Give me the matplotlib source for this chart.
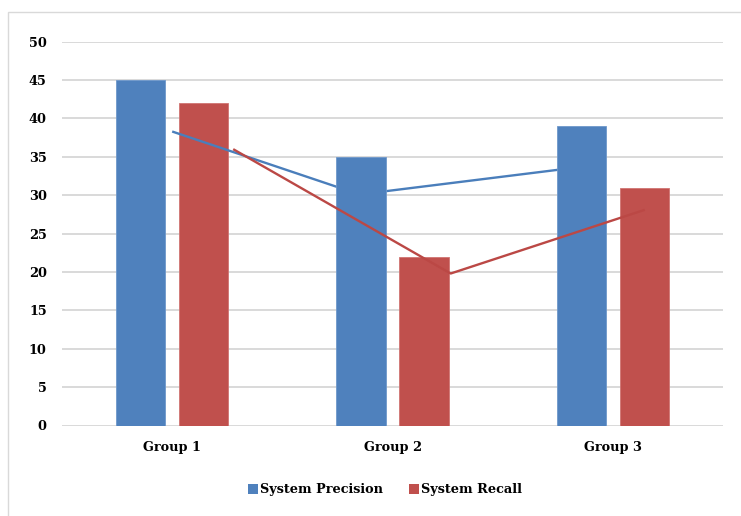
import matplotlib
matplotlib.use("Agg")
import matplotlib.pyplot as plt
import numpy as np
from matplotlib.patches import Rectangle, Patch

# Data
groups = ["Group 1", "Group 2", "Group 3"]
precision = [45, 35, 39]
recall = [42, 22, 31]

# Connecting lines for each series (x in category units, y in value units)
precision_line_x = [0.0, 0.85, 1.86]
precision_line_y = [38.3, 30.1, 33.7]
recall_line_x = [0.277, 1.264, 2.145]
recall_line_y = [36.0, 19.8, 28.1]

y_ticks = [0, 5, 10, 15, 20, 25, 30, 35, 40, 45, 50]

BLUE = "#4F81BD"
RED = "#C0504D"
BLUE_LINE = "#4A7EBB"
RED_LINE = "#BB4845"
GRID = "#D9D9D9"

plt.rcParams["font.family"] = ["DejaVu Serif"]
plt.rcParams["font.weight"] = "bold"

W, H = 741, 516
fig = plt.figure(figsize=(W / 100, H / 100), dpi=100)
fig.patch.set_facecolor("white")

# Outer chart border
fig.patches.append(Rectangle((8 / W, -0.1), 1.2, 1 - 12 / H + 0.1,
                             transform=fig.transFigure, fill=False,
                             edgecolor=GRID, linewidth=1.0))

left, right = 62 / W, 723 / W
bottom, top = 1 - 425.5 / H, 1 - 41.7 / H
ax = fig.add_axes([left, bottom, right - left, top - bottom])

x = np.arange(len(groups))
offset = 0.143
width = 0.223

for t in y_ticks:
    ax.axhline(t, color=GRID, linewidth=1.4, zorder=0)

ax.bar(x + offset, recall, width, color=RED, edgecolor="#D07472",
       linewidth=0.6, zorder=1, label="System Recall")
ax.plot(precision_line_x, precision_line_y, color=BLUE_LINE, linewidth=1.7,
        zorder=2, solid_capstyle="butt")
ax.bar(x - offset, precision, width, color=BLUE, edgecolor="#6E98CB",
       linewidth=0.6, zorder=3, label="System Precision")
ax.plot(recall_line_x, recall_line_y, color=RED_LINE, linewidth=1.7,
        zorder=4, solid_capstyle="butt")

ax.set_xlim(-0.5, 2.5)
ax.set_ylim(0, 50)
ax.set_yticks(y_ticks)
ax.set_xticks(x)
ax.set_xticklabels(groups)
ax.tick_params(axis="both", length=0, labelsize=9.3, colors="#000000")
ax.tick_params(axis="y", pad=11)
ax.tick_params(axis="x", pad=11)
for lab in ax.get_xticklabels() + ax.get_yticklabels():
    lab.set_fontweight("bold")
for s in ax.spines.values():
    s.set_visible(False)

handles = [Patch(facecolor=BLUE, edgecolor="none"),
           Patch(facecolor=RED, edgecolor="none")]
fig.legend(handles, ["System Precision", "System Recall"],
           loc="center", bbox_to_anchor=(385 / W, 1 - 490 / H),
           ncol=2, frameon=False, prop={"size": 9.3, "weight": "bold"},
           handlelength=0.75, handleheight=0.75, handletextpad=0.2,
           columnspacing=2.0)

fig.savefig("out.png", dpi=100, facecolor="white")
